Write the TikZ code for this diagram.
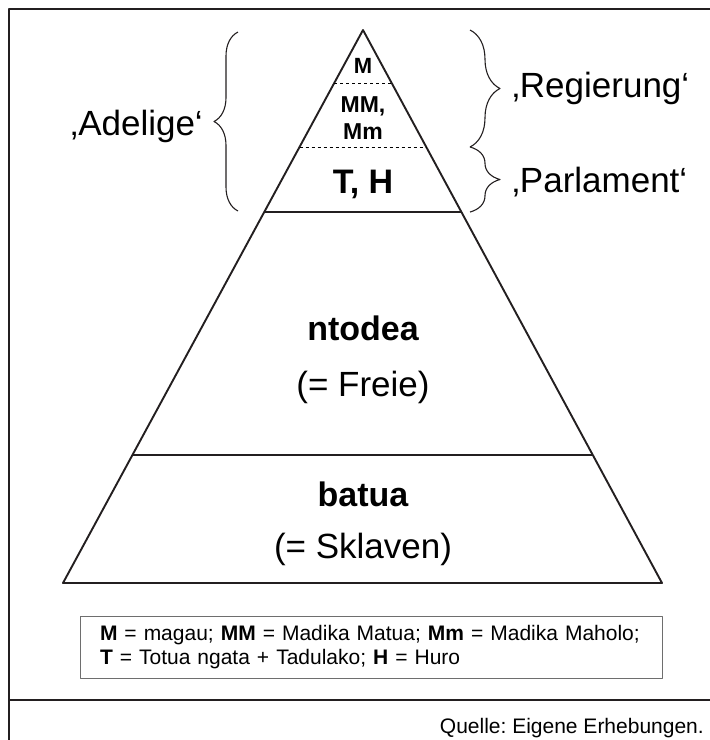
\documentclass[tikz,border=0pt]{standalone}
\usepackage{fontspec}
\setmainfont{Liberation Sans}
\usetikzlibrary{calc, decorations.pathreplacing}
\definecolor{FrameGray}{RGB}{35, 31, 32}
\definecolor{BoxGray}{RGB}{110, 110, 110}
\frenchspacing

\tikzset{
  schicht/.style={font=\fontsize{35}{40}\selectfont, inner sep=0pt},
  schichtfett/.style={font=\bfseries\fontsize{34}{40}\selectfont, inner sep=0pt},
  spitze/.style={font=\bfseries\fontsize{23}{27}\selectfont, inner sep=0pt, align=center},
  klammer/.style={decorate, line width=1.1pt, FrameGray, decoration={brace, amplitude=#1}},
}

\begin{document}
\begin{tikzpicture}[x=1pt, y=-1pt, line join=round]
    \useasboundingbox (0,0) rectangle (710,740);

    % Rahmen
    \draw[line width=2.6pt, FrameGray] (720,9) -- (9,9) -- (9,750);
    \draw[line width=2.6pt, FrameGray] (9,700) -- (720,700);

    % Pyramide
    \coordinate (apex) at (363,30);
    \coordinate (links) at (63,583);
    \coordinate (rechts) at (662,583);
    \draw[line width=1.9pt, FrameGray] (links) -- (apex) -- (rechts) -- cycle;

    % Schichtgrenzen
    \draw[dashed, thin] ($(apex)!0.0958!(links)$) -- ($(apex)!0.0958!(rechts)$);
    \draw[dashed, thin] ($(apex)!0.2116!(links)$) -- ($(apex)!0.2116!(rechts)$);
    \draw[line width=1.2pt, FrameGray] ($(apex)!0.3291!(links)$) -- ($(apex)!0.3291!(rechts)$);
    \draw[line width=1.4pt, FrameGray] ($(apex)!0.7685!(links)$) -- ($(apex)!0.7685!(rechts)$);

    % Schichten
    \node[spitze, anchor=base] (magau) at (363,73) {\fontsize{22}{26}\selectfont M};
    \node[spitze] (madika) at (363,118) {MM,\\Mm};
    \node[schichtfett, anchor=base] (totua) at (363,193) {T, H};
    \node[schichtfett, anchor=base] (ntodea) at (363,340) {ntodea};
    \node[schicht, anchor=base] (freie) at (363,396) {(= Freie)};
    \node[schichtfett, anchor=base] (batua) at (363,506) {batua};
    \node[schicht, anchor=base] (sklaven) at (363,558) {(= Sklaven)};

    % Klammern
    \coordinate (adel-o) at (238,32);
    \coordinate (adel-u) at (238,211);
    \coordinate (reg-o) at (470,30);
    \coordinate (reg-u) at (470,147);
    \coordinate (parl-u) at (470,212);
    \draw[klammer=24pt] (adel-u) -- (adel-o);
    \draw[klammer=30pt] (reg-o) -- (reg-u);
    \draw[klammer=30pt] (reg-u) -- (parl-u);
    \node[schicht, anchor=base east] (adelige) at (203,135) {‚Adelige‘};
    \node[schicht, anchor=base west] (regierung) at (512,97) {‚Regierung‘};
    \node[schicht, anchor=base west] (parlament) at (512,192) {‚Parlament‘};

    % Legende
    \node[draw=BoxGray, thin, inner xsep=20pt, inner ysep=0pt, text width=542pt,
          minimum height=62pt, align=left, font=\fontsize{21}{24}\selectfont]
          (legende) at (371,647)
          {\textbf{M} = magau; \textbf{MM} = Madika Matua; \textbf{Mm} = Madika Maholo;\\
           \textbf{T} = Totua ngata + Tadulako; \textbf{H} = Huro};

    % Quelle
    \node[anchor=base east, inner sep=0pt, font=\fontsize{21}{24}\selectfont]
          (quelle) at (704,733) {Quelle: Eigene Erhebungen.};
\end{tikzpicture}
\end{document}
